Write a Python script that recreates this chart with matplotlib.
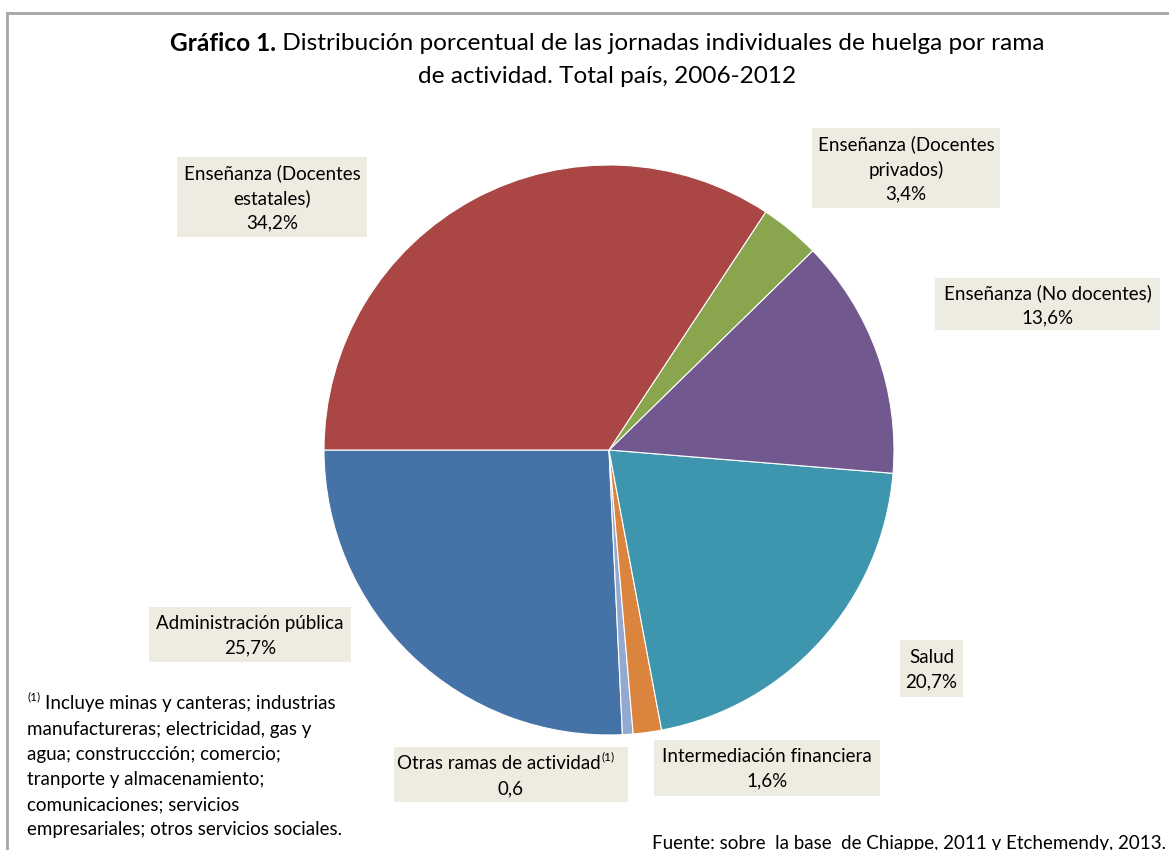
"""
Gráfico 1: distribución porcentual de jornadas de huelga por rama (torta)
"""
import matplotlib
matplotlib.use("Agg")
import matplotlib.pyplot as plt
from matplotlib.patches import Rectangle

plt.rcParams["font.family"] = ["Lato", "DejaVu Sans"]

W, H = 1169, 850

# datos (orden antihorario desde las 9 en punto)
ramas = ["Administración pública", "Otras ramas de actividad", "Intermediación financiera",
         "Salud", "Enseñanza (No docentes)", "Enseñanza (Docentes privados)",
         "Enseñanza (Docentes estatales)"]
valores = [25.7, 0.6, 1.6, 20.7, 13.6, 3.4, 34.2]
etiquetas = ["Administración pública\n25,7%",
             "Otras ramas de actividad\n0,6",
             "Intermediación financiera\n1,6%",
             "Salud\n20,7%",
             "Enseñanza (No docentes)\n13,6%",
             "Enseñanza (Docentes\nprivados)\n3,4%",
             "Enseñanza (Docentes\nestatales)\n34,2%"]
colores = ["#4572A7", "#94A9D0", "#DB843D", "#3D96AE", "#71588F", "#89A54E", "#AA4643"]

# cajas de etiqueta: (x0, y0, x1, y1) en pixeles
cajas = [(149, 607, 351, 662), (394, 747, 628, 802), (654, 740, 880, 796),
         (900, 640, 963, 697), (935, 278, 1160, 330), (812, 128, 1000, 208),
         (177, 157, 367, 237)]

BOX = "#EEECE1"
FS = 13.5
FT = 17.6

fig = plt.figure(figsize=(W / 100, H / 100), dpi=100)

# torta
cx, cy, r = 609, 450, 285
ax = fig.add_axes([(cx - r) / W, (H - cy - r) / H, 2 * r / W, 2 * r / H])
ax.pie(valores, colors=colores, startangle=180, counterclock=True,
       wedgeprops=dict(edgecolor="white", linewidth=0.8))
ax.set_xlim(-1, 1)
ax.set_ylim(-1, 1)
ax.set_aspect("equal")
ax.axis("off")

# capa de anotaciones en pixeles
ov = fig.add_axes([0, 0, 1, 1], zorder=5)
ov.set_xlim(0, W)
ov.set_ylim(H, 0)
ov.axis("off")
ov.patch.set_alpha(0)

# marco
ov.plot([7, 7, W], [H, 13, 13], color="#A6A6A6", lw=2, solid_joinstyle="miter")

for lab, (x0, y0, x1, y1) in zip(etiquetas, cajas):
    ov.add_patch(Rectangle((x0, y0), x1 - x0, y1 - y0, fc=BOX, ec="none"))
    if lab.startswith("Otras"):
        lines = lab.split("\n")
        ov.text(601, (y0 + y1) / 2 - 11, lines[0], ha="right", va="center", fontsize=FS)
        ov.text(602, (y0 + y1) / 2 - 18, "(1)", ha="left", va="center", fontsize=8.5)
        ov.text((x0 + x1) / 2, (y0 + y1) / 2 + 14, lines[1], ha="center", va="center", fontsize=FS)
    else:
        ov.text((x0 + x1) / 2, (y0 + y1) / 2 + 1, lab, ha="center", va="center",
                fontsize=FS, linespacing=1.5)

# titulo (negrita + normal, centrado)
t1 = ov.text(0, 43, "Gráfico 1.", ha="left", va="center", fontsize=FT, fontweight="bold")
t2 = ov.text(0, 43, " Distribución porcentual de las jornadas individuales de huelga por rama",
             ha="left", va="center", fontsize=FT)
fig.canvas.draw()
ren = fig.canvas.get_renderer()
w1 = t1.get_window_extent(ren).width
w2 = t2.get_window_extent(ren).width
x_start = 607 - (w1 + w2) / 2
t1.set_x(x_start)
t2.set_x(x_start + w1)
ov.text(607, 76, "de actividad. Total país, 2006-2012", ha="center", va="center", fontsize=FT)

# nota al pie
nota = ["Incluye minas y canteras; industrias",
        "manufactureras; electricidad, gas y",
        "agua; construccción; comercio;",
        "tranporte y almacenamiento;",
        "comunicaciones; servicios",
        "empresariales; otros servicios sociales."]
ov.text(27, 697, "(1)", ha="left", va="center", fontsize=8.5)
ov.text(45, 704, nota[0], ha="left", va="center", fontsize=FS)
for i, linea in enumerate(nota[1:], start=1):
    ov.text(27, 704 + i * 25.2, linea, ha="left", va="center", fontsize=FS)

ov.text(652, 843, "Fuente: sobre  la base  de Chiappe, 2011 y Etchemendy, 2013.",
        ha="left", va="center", fontsize=FS)

fig.savefig("out.png", dpi=100)
